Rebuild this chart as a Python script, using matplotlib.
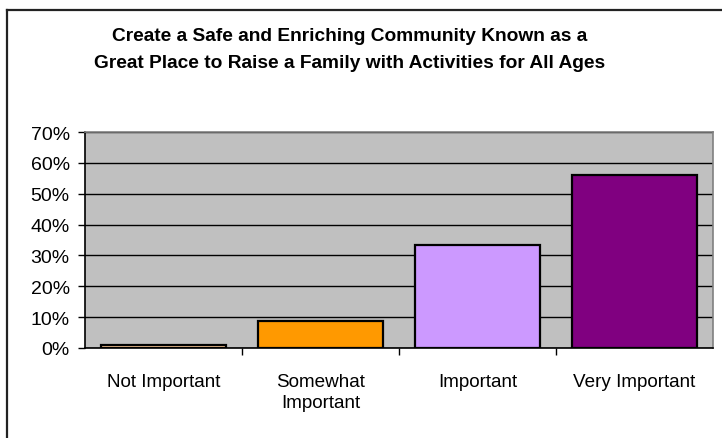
import matplotlib
matplotlib.use("Agg")
import matplotlib.pyplot as plt
from matplotlib.lines import Line2D
from matplotlib.ticker import MultipleLocator, FuncFormatter

categories = ["Not Important", "Somewhat\nImportant", "Important", "Very Important"]
shares = [1.1, 8.8, 33.4, 56.0]
bar_colors = ["#FFCC99", "#FF9900", "#CC99FF", "#800080"]
title_text = ("Create a Safe and Enriching Community Known as a\n"
              "Great Place to Raise a Family with Activities for All Ages")

plt.rcParams["font.family"] = ["Liberation Sans", "DejaVu Sans"]

fig = plt.figure(figsize=(7.22, 4.39), dpi=100)
fig.patch.set_facecolor("white")
ax = fig.add_axes([85 / 722, 1 - 349 / 439, (713 - 85) / 722, (349 - 133) / 439])
ax.set_facecolor("#C0C0C0")

x = list(range(len(categories)))
ax.bar(x, shares, width=0.8, color=bar_colors, edgecolor="black", linewidth=1.6, zorder=3)

ax.set_xlim(-0.5, len(categories) - 0.5)
ax.set_ylim(0, 70)
ax.yaxis.set_major_locator(MultipleLocator(10))
ax.yaxis.set_major_formatter(FuncFormatter(lambda v, _: f"{v:.0f}%"))
ax.grid(axis="y", color="black", linewidth=1.0, zorder=1)
ax.set_axisbelow(True)

# category labels centred under bars, tick marks on category boundaries
ax.set_xticks(x)
ax.set_xticklabels(categories, fontsize=13.6, linespacing=1.3, va="top")
ax.tick_params(axis="x", length=0, pad=18)
ax.set_xticks([i + 0.5 for i in x[:-1]], minor=True)
ax.tick_params(axis="x", which="minor", length=5, width=1, color="black", direction="out")
ax.tick_params(axis="y", length=5, width=1, color="black", direction="out",
               labelsize=14, pad=6)

for side in ("left", "bottom"):
    ax.spines[side].set_color("black")
    ax.spines[side].set_linewidth(1.2)
for side in ("top", "right"):
    ax.spines[side].set_color("#808080")
    ax.spines[side].set_linewidth(1.2)

fig.text(350 / 722, 1 - 50 / 439, title_text, ha="center", va="center",
         fontsize=13.8, fontweight="bold", linespacing=1.7)

# chart-area frame (left and top edges)
fig.add_artist(Line2D([7 / 722, 7 / 722], [0, 1 - 11 / 439], transform=fig.transFigure,
                      color="#222222", linewidth=1.6))
fig.add_artist(Line2D([7 / 722, 1], [1 - 11 / 439, 1 - 11 / 439], transform=fig.transFigure,
                      color="#222222", linewidth=1.6))

fig.savefig("out.png", dpi=100)
